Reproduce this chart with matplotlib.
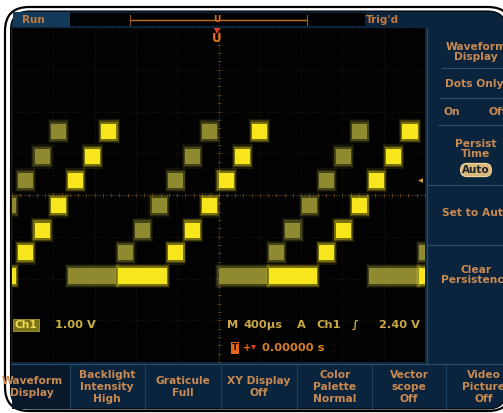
import matplotlib
matplotlib.use("Agg")
import matplotlib.pyplot as plt
from matplotlib.patches import FancyBboxPatch, Rectangle

# Ch1 staircase: output level of each DAC step (V) and the step seen in each slot
step_volts = [-1.94, -1.38, -0.84, -0.25, 0.35, 0.92, 1.53]
bright_steps = [0, 1, 2, 3, 4, 5, 6, 0, 0, 0, 1, 2, 3, 4, 5, 6, 0, 0, 0, 1, 2, 3, 4, 5, 6, 0]
dim_steps = [3, 4, 5, 6, 0, 0, 0, 1, 2, 3, 4, 5, 6, 0, 0, 0, 1, 2, 3, 4, 5, 6, 0, 0, 0, 1]
first_slot_us = -2114
slot_us = 162

bottom_menu = ["Waveform\nDisplay", "Backlight\nIntensity\nHigh", "Graticule\nFull",
               "XY Display\nOff", "Color\nPalette\nNormal", "Vector\nscope\nOff",
               "Video\nPicture\nOff"]
bottom_x = [32, 107, 183, 259, 335, 409, 484]

NAVY = "#0a243d"
MENU = "#c98a52"
BRIGHT = "#f8e61c"
DIM = "#8f8a30"
FONT = dict(family="DejaVu Sans", weight="bold")

fig = plt.figure(figsize=(5.03, 4.13), dpi=100)
fig.patch.set_facecolor("white")

# background layer in pixel units
bg = fig.add_axes([0, 0, 1, 1])
bg.set_xlim(0, 503)
bg.set_ylim(413, 0)
bg.axis("off")

bezel = FancyBboxPatch((5, 7), 507, 404, boxstyle="round,pad=0,rounding_size=24",
                       facecolor="white", edgecolor="black", lw=1.6)
bg.add_patch(bezel)
screen = FancyBboxPatch((10.5, 11), 496, 398, boxstyle="round,pad=0,rounding_size=19",
                        facecolor=NAVY, edgecolor="black", lw=0.8)
bg.add_patch(screen)

# top status bar
bg.add_patch(Rectangle((13, 12), 57, 15, facecolor="#123a5a", lw=0))
bg.text(22, 20, "Run", color="#c27a3c", fontsize=7.5, va="center", **FONT)
bg.add_patch(Rectangle((70, 13), 295, 13, facecolor="#010203", lw=0))
bg.plot([130, 307], [20, 20], color="#c0701c", lw=1.0)
bg.plot([130, 130], [15, 25], color="#8a5a2a", lw=0.8)
bg.plot([307, 307], [15, 25], color="#8a5a2a", lw=0.8)
bg.text(366, 20, "Trig'd", color="#c27a3c", fontsize=7.5, va="center", **FONT)

# bottom menu
bg.add_patch(Rectangle((12, 364), 58, 45, facecolor="#08192c", lw=0))
for xd in [70, 145, 221, 297, 372, 446]:
    bg.plot([xd, xd], [365, 408], color="#1d3f5f", lw=0.8)
bg.plot([11, 506], [363.5, 363.5], color="#2a4c6c", lw=0.9)
for label, xc in zip(bottom_menu, bottom_x):
    t = bg.text(xc, 387, label, color=MENU, fontsize=7.7, ha="center", va="center",
                linespacing=1.2, **FONT)
    t.set_clip_path(screen)

# right side menu
bg.plot([427, 427], [28, 363], color="#2a4c6c", lw=0.9)
for y, x0 in [(68, 442), (98, 440), (125, 438), (185, 428), (245, 428)]:
    bg.plot([x0, 506], [y, y], color="#2b4d6e", lw=0.8)
side_items = [("Waveform\nDisplay", 476, 52), ("Dots Only", 474, 84),
              ("On", 452, 112), ("Off", 498, 112), ("Persist\nTime", 476, 149),
              ("Set to Auto", 476, 213), ("Clear\nPersistence", 476, 275)]
for label, xc, yc in side_items:
    t = bg.text(xc, yc, label, color=MENU, fontsize=7.7, ha="center", va="center",
                linespacing=1.1, **FONT)
    t.set_clip_path(screen)
bg.text(476, 170, "Auto", color="#1a2230", fontsize=7.5, ha="center", va="center",
        bbox=dict(boxstyle="round,pad=0.15,rounding_size=0.6", fc="#d9b779", ec="#f0d8a0", lw=0.8),
        **FONT)

# graticule
ax = fig.add_axes([12 / 503, (413 - 362) / 413, 413 / 503, 334 / 413], zorder=2)
ax.set_facecolor("#020203")
ax.set_xlim(-2000, 2000)
ax.set_ylim(-4, 4)
ax.set_xticks([])
ax.set_yticks([])
for s in ax.spines.values():
    s.set_visible(False)

for t in range(-2000, 2001, 400):
    ax.axvline(t, color="#33230f", lw=0.6, ls=(0, (1, 3)), zorder=0)
for v in range(-4, 5):
    ax.axhline(v, color="#33230f", lw=0.6, ls=(0, (1, 3)), zorder=0)
ax.axvline(0, color="#5c3e1e", lw=0.7, ls=(0, (1, 2)), zorder=0)
ax.axhline(0, color="#6a4622", lw=0.7, ls=(0, (1, 2)), zorder=0)
minor_t = [i * 80 for i in range(-25, 26)]
ax.plot(minor_t, [0] * len(minor_t), "|", color="#5c3e1e", ms=3, mew=0.6, zorder=0)
minor_v = [i * 0.2 for i in range(-20, 21)]
ax.plot([0] * len(minor_v), minor_v, "_", color="#5c3e1e", ms=3, mew=0.6, zorder=0)


def runs(steps):
    out = []
    start = 0
    for i in range(1, len(steps) + 1):
        if i == len(steps) or steps[i] != steps[start]:
            out.append((start, i - start, steps[start]))
            start = i
    return out


def draw_trace(steps, color, z):
    # soft persistence blobs: a few widening translucent layers under the core
    for start, n, lvl in runs(steps):
        t0 = first_slot_us + start * slot_us
        v = step_volts[lvl]
        w = n * slot_us
        for pad_t, pad_v, a in [(22, 0.08, 0.10), (12, 0.05, 0.18), (3, 0.02, 0.30)]:
            ax.bar(t0 - pad_t, 0.42 + 2 * pad_v, width=w + 2 * pad_t,
                   bottom=v - 0.21 - pad_v, align="edge",
                   color=color, alpha=a, lw=0, zorder=z)
        ax.bar(t0 + 8, 0.36, width=w - 16, bottom=v - 0.18, align="edge",
               color=color, lw=0, zorder=z)


draw_trace(dim_steps, DIM, 2)
draw_trace(bright_steps, BRIGHT, 3)

# overlay readouts and markers
ov = fig.add_axes([0, 0, 1, 1], zorder=5)
ov.set_xlim(0, 503)
ov.set_ylim(413, 0)
ov.axis("off")
ov.patch.set_alpha(0)

ov.text(217, 20, "U", color="#e0661a", fontsize=6.5, ha="center", va="center", **FONT)
ov.plot([217], [31], marker="v", color="#e8401a", ms=4, mew=0)
ov.text(217, 39, "U", color="#e8761c", fontsize=8.5, ha="center", va="center", **FONT)
ov.plot([420], [180], marker="<", color="#c8a020", ms=3.5, mew=0)

RD = dict(fontsize=8.2, va="center", **FONT)
ov.text(26, 325, "Ch1", color="#f0da50", fontsize=7.7, ha="center", va="center",
        bbox=dict(boxstyle="square,pad=0.12", fc="#7c7418", ec="#a89a30", lw=0.6), **FONT)
ov.text(55, 325, "1.00 V", color="#c9b244", **RD)
for txt, x in [("M", 227), ("400\u00b5s", 243), ("A", 297), ("Ch1", 316),
               ("\u222b", 352), ("2.40 V", 379)]:
    ov.text(x, 325, txt, color="#c9a848", **RD)
ov.text(235, 348, "T", color="#1a0c04", fontsize=6.5, ha="center", va="center",
        bbox=dict(boxstyle="square,pad=0.12", fc="#e8661a", ec="none"), **FONT)
ov.text(243, 348, "+", color="#e8661a", fontsize=7, va="center", **FONT)
ov.plot([253], [347], marker="v", color="#e8401a", ms=3.5, mew=0)
ov.text(262, 348, "0.00000 s", color="#d8801e", **RD)

fig.savefig("out.png", dpi=100, facecolor="white")
